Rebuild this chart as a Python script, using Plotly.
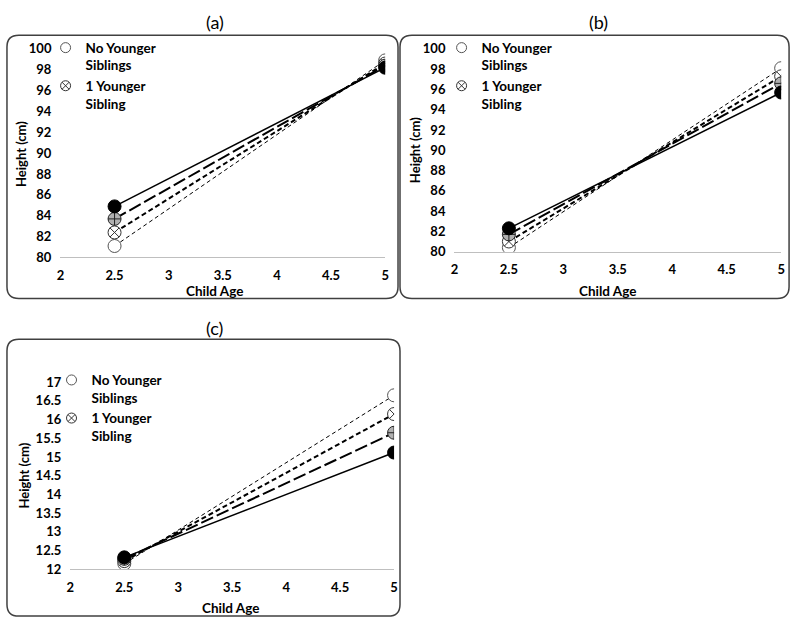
import plotly.graph_objects as go

W, H = 800, 628

ages = [2.5, 5]
series_names = ["No Younger Siblings", "1 Younger Sibling", "2 Younger Siblings", "3+ Younger Siblings"]
legend_labels = ["No Younger<br>Siblings", "1 Younger<br>Sibling"]

a_none = [81.1, 98.9]
a_one = [82.4, 98.6]
a_two = [83.7, 98.4]
a_three = [84.9, 98.2]

b_none = [80.4, 98.1]
b_one = [81.0, 97.3]
b_two = [81.7, 96.6]
b_three = [82.3, 95.7]

c_none = [12.15, 16.65]
c_one = [12.22, 16.15]
c_two = [12.28, 15.65]
c_three = [12.32, 15.12]

x_ticks = [2, 2.5, 3, 3.5, 4, 4.5, 5]
x_ticktext = ["2", "2.5", "3", "3.5", "4", "4.5", "5"]

FONT = "Lato"

styles = [
    dict(dash="4px,3px", width=1, symbol="circle", fill="white", mline="#555"),
    dict(dash="5px,3px", width=2, symbol="circle-x", fill="white", mline="#333"),
    dict(dash="13px,4px", width=2, symbol="circle-cross", fill="#b0b0b0", mline="#222"),
    dict(dash="solid", width=1.5, symbol="circle", fill="black", mline="black"),
]

def px(x):
    return x / W

def py(y):
    return 1 - y / H

panels = [
    dict(key="", data=[a_none, a_one, a_two, a_three], xd=(57, 385), yd=(42, 256),
         yr=(80, 100), dt=2, legend="legend", lx=42, ly=25),
    dict(key="2", data=[b_none, b_one, b_two, b_three], xd=(455, 785), yd=(42, 250),
         yr=(80, 100), dt=2, legend="legend2", lx=442, ly=25),
    dict(key="3", data=[c_none, c_one, c_two, c_three], xd=(67, 394), yd=(384, 576),
         yr=(12, 17), dt=0.5, legend="legend3", lx=48, ly=366),
]

fig = go.Figure()

for p in panels:
    xa = "x" + p["key"]
    ya = "y" + p["key"]
    for i, vals in enumerate(p["data"]):
        s = styles[i]
        fig.add_trace(go.Scatter(
            x=ages, y=vals, mode="lines+markers", name=series_names[i],
            xaxis=xa, yaxis=ya, showlegend=False,
            line=dict(color="black", width=s["width"], dash=s["dash"]),
            marker=dict(symbol=s["symbol"], size=13, color=s["fill"],
                        line=dict(color=s["mline"], width=1)),
        ))
    for i in range(2):
        s = styles[i]
        fig.add_trace(go.Scatter(
            x=[None], y=[None], mode="markers", name=legend_labels[i],
            xaxis=xa, yaxis=ya, showlegend=True, legend=p["legend"],
            marker=dict(symbol=s["symbol"], size=10, color=s["fill"],
                        line=dict(color=s["mline"], width=1)),
        ))

layout = dict(
    width=W, height=H, margin=dict(l=0, r=0, t=0, b=0),
    paper_bgcolor="white", plot_bgcolor="white",
    font=dict(family=FONT, color="black"),
    showlegend=True,
)

for p in panels:
    k = p["key"]
    layout["xaxis" + k] = dict(
        domain=[px(p["xd"][0]), px(p["xd"][1])], range=[2, 5],
        tickvals=x_ticks, ticktext=x_ticktext,
        anchor="y" + k, showgrid=False, zeroline=False,
        showline=True, linecolor="#bfbfbf", linewidth=1,
        ticks="", ticklabelstandoff=6,
        tickfont=dict(size=13, weight="bold", family=FONT),
    )
    layout["yaxis" + k] = dict(
        domain=[py(p["yd"][1]), py(p["yd"][0])], range=list(p["yr"]),
        dtick=p["dt"], tick0=p["yr"][0],
        anchor="x" + k, showgrid=False, zeroline=False, showline=False,
        ticks="", ticklabelstandoff=8,
        tickfont=dict(size=13, weight="bold", family=FONT),
    )
    layout[p["legend"]] = dict(
        x=px(p["lx"]), y=py(p["ly"]), xanchor="left", yanchor="top",
        bgcolor="rgba(0,0,0,0)", font=dict(size=13.5, weight="bold", family=FONT),
        itemwidth=30, tracegroupgap=0, valign="top",
    )

fig.update_layout(**layout)

# rounded boxes
def rounded(x0, y0, x1, y1, r=12):
    pts = [
        f"M {px(x0 + r)},{py(y0)}",
        f"L {px(x1 - r)},{py(y0)}",
        f"Q {px(x1)},{py(y0)} {px(x1)},{py(y0 + r)}",
        f"L {px(x1)},{py(y1 - r)}",
        f"Q {px(x1)},{py(y1)} {px(x1 - r)},{py(y1)}",
        f"L {px(x0 + r)},{py(y1)}",
        f"Q {px(x0)},{py(y1)} {px(x0)},{py(y1 - r)}",
        f"L {px(x0)},{py(y0 + r)}",
        f"Q {px(x0)},{py(y0)} {px(x0 + r)},{py(y0)} Z",
    ]
    return " ".join(pts)

for (x0, y0, x1, y1) in [(3, 28, 398, 298), (400, 28, 793, 298), (3, 340, 400, 624)]:
    fig.add_shape(type="path", path=rounded(x0, y0, x1, y1), xref="paper", yref="paper",
                  line=dict(color="#404040", width=1.5), layer="below")

annotations = [
    ("(a)", 213, 14, 18, 0, "normal"),
    ("(b)", 600, 14, 18, 0, "normal"),
    ("(c)", 213, 328, 18, 0, "normal"),
    ("Child Age", 213, 290, 13.5, 0, "bold"),
    ("Child Age", 610, 290, 13.5, 0, "bold"),
    ("Child Age", 229, 616, 13.5, 0, "bold"),
    ("Height (cm)", 17, 150, 13, -90, "bold"),
    ("Height (cm)", 415, 146, 13, -90, "bold"),
    ("Height (cm)", 20, 480, 13, -90, "bold"),
]
for text, x, y, size, ang, wt in annotations:
    fig.add_annotation(text=text, x=px(x), y=py(y), xref="paper", yref="paper",
                       showarrow=False, textangle=ang,
                       font=dict(size=size, weight=wt, family=FONT, color="black"),
                       xanchor="center", yanchor="middle")

fig.write_html("out.html", config={"displayModeBar": False},
               post_script="document.body.style.margin='0';document.body.style.overflow='hidden';")
